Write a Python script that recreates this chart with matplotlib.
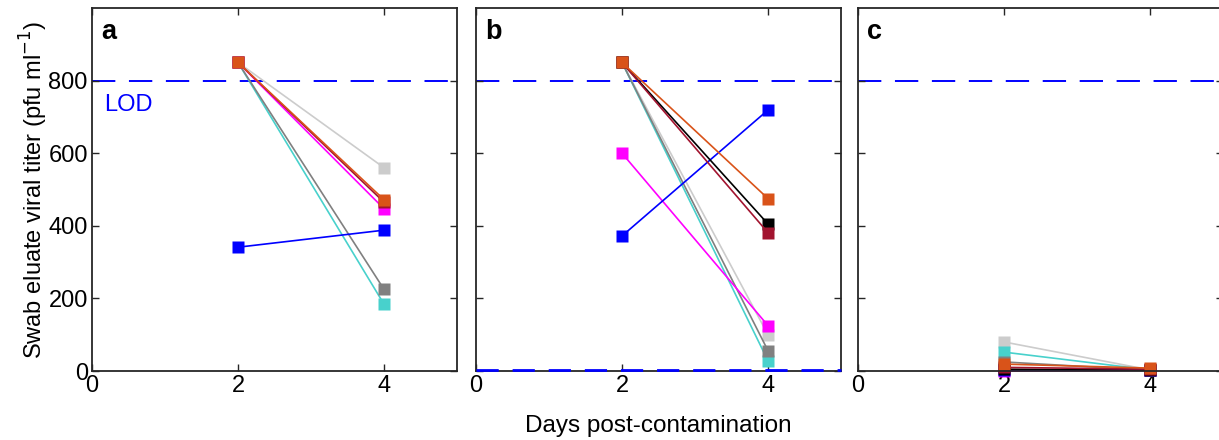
import matplotlib
matplotlib.use("Agg")
import matplotlib.pyplot as plt

plt.rcParams['font.family'] = ['Liberation Sans', 'DejaVu Sans']

days = [2, 4]
lod_upper = 800
lod_lower_b = 3

series_colors = {
    'lightgray': '#CCCCCC',
    'cyan': '#48D1CC',
    'gray': '#808080',
    'magenta': '#FF00FF',
    'blue': '#0000FF',
    'black': '#000000',
    'crimson': '#A2142F',
    'orange': '#D95319',
}

panel_a = {
    'lightgray': [850, 560],
    'cyan': [850, 184],
    'gray': [850, 225],
    'magenta': [850, 447],
    'blue': [341, 388],
    'crimson': [850, 465],
    'orange': [850, 472],
}
panel_b = {
    'lightgray': [850, 100],
    'cyan': [850, 28],
    'gray': [850, 56],
    'magenta': [600, 125],
    'blue': [372, 719],
    'black': [850, 405],
    'crimson': [850, 381],
    'orange': [850, 475],
}
panel_c = {
    'lightgray': [80, 3],
    'cyan': [52, 3],
    'gray': [25, 2],
    'magenta': [0, 2],
    'blue': [3, 3],
    'black': [5, 2],
    'crimson': [10, 5],
    'orange': [19, 8],
}

panels = [('a', panel_a), ('b', panel_b), ('c', panel_c)]

W, H = 1219, 440
fig = plt.figure(figsize=(W / 100, H / 100), dpi=100)
lefts = [92, 476, 858]
ax_w = 365
bottom_px, top_px = 371, 8

axes = []
for i, (letter, data) in enumerate(panels):
    ax = fig.add_axes([lefts[i] / W, (H - bottom_px) / H, ax_w / W, (bottom_px - top_px) / H])
    axes.append(ax)
    ax.axhline(lod_upper, color='#0000FF', lw=1.4, ls=(0, (12, 7)), zorder=1)
    if letter == 'b':
        ax.axhline(lod_lower_b, color='#0000FF', lw=2.0, ls=(0, (8, 5)), zorder=5,
                   clip_on=False)
    for key, vals in data.items():
        ax.plot(days, vals, color=series_colors[key], lw=1.2, marker='s', ms=8.5,
                mec='none', clip_on=False, zorder=3)
    ax.set_xlim(0, 5)
    ax.set_ylim(0, 1000)
    ax.set_xticks([0, 2, 4])
    ax.set_yticks([0, 200, 400, 600, 800])
    ax.tick_params(direction='in', top=True, right=True, length=5, width=1,
                   labelsize=17, colors='#262626', labelcolor='black', pad=3)
    for sp in ax.spines.values():
        sp.set_color('#262626')
        sp.set_linewidth(1.3)
        sp.set_zorder(4)
    if i > 0:
        ax.set_yticklabels([])
    ax.text(0.12, 935, letter, fontsize=19.5, fontweight='bold', ha='left', va='center')

axes[0].text(0.17, 733, 'LOD', color='#0000FF', fontsize=17, ha='left', va='center')
axes[0].set_ylabel(r'Swab eluate viral titer (pfu ml$^{-1}$)', fontsize=17, labelpad=-1)
axes[1].set_xlabel('Days post-contamination', fontsize=17.5, labelpad=13)

fig.savefig('out.png', dpi=100)
